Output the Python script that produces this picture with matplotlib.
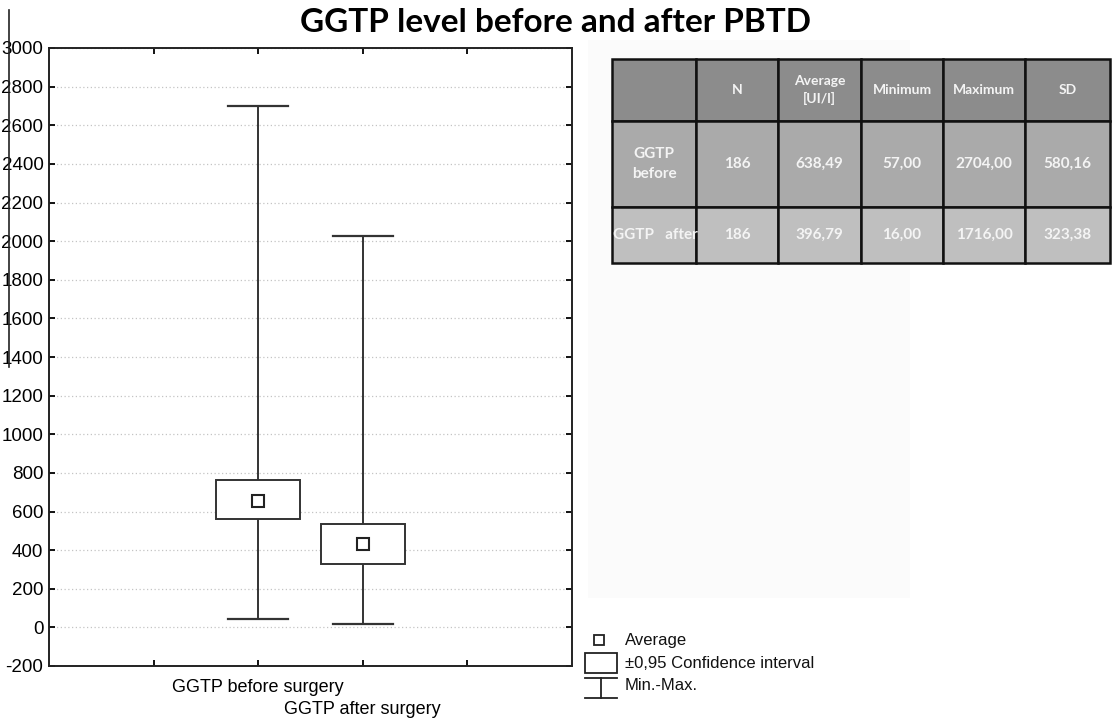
import matplotlib.pyplot as plt
from matplotlib.patches import Rectangle

# Data
groups = ["GGTP before surgery", "GGTP after surgery"]
positions = [2, 3]
means = [655, 431]
ci_low = [562, 328]
ci_high = [762, 534]
mins = [45, 19]
maxs = [2702, 2025]

table_header = ["", "N", "Average\n[UI/l]", "Minimum", "Maximum", "SD"]
table_rows = [
    ["GGTP\nbefore", "186", "638,49", "57,00", "2704,00", "580,16"],
    ["GGTP   after", "186", "396,79", "16,00", "1716,00", "323,38"],
]

W, H = 1116, 725
plt.rcParams['font.family'] = ['Liberation Sans', 'DejaVu Sans']
plt.rcParams['axes.unicode_minus'] = False
fig = plt.figure(figsize=(W / 100, H / 100), dpi=100)

ax = fig.add_axes([49 / W, 1 - 666 / H, (572 - 49) / W, (666 - 48) / H])
ax.set_xlim(0, 5)
ax.set_ylim(-200, 3000)
ax.set_yticks(range(-200, 3001, 200))
ax.set_xticks([1, 2, 3, 4])
ax.set_xticklabels(["", groups[0], groups[1], ""], fontsize=13)
ax.tick_params(axis='y', labelsize=13.5, direction='in', length=4, width=1.3,
               right=True, pad=4)
ax.tick_params(axis='x', direction='in', length=4, width=1.3, top=True, pad=9)
# stagger the second group label one line lower
ax.xaxis.get_major_ticks()[2].set_pad(25)
for s in ax.spines.values():
    s.set_linewidth(1.4)
    s.set_color('#222222')
ax.grid(axis='y', linestyle=(0, (1, 2)), color='#c4c4c4', linewidth=0.9)
ax.set_axisbelow(True)

box_w = 0.8
cap_w = 0.57
for i, x in enumerate(positions):
    # whiskers min-max
    ax.plot([x, x], [mins[i], ci_low[i]], color='#333333', lw=1.4, zorder=3)
    ax.plot([x, x], [ci_high[i], maxs[i]], color='#333333', lw=1.4, zorder=3)
    ax.plot([x - cap_w / 2, x + cap_w / 2], [mins[i], mins[i]], color='#333333', lw=1.6, zorder=3)
    ax.plot([x - cap_w / 2, x + cap_w / 2], [maxs[i], maxs[i]], color='#333333', lw=1.6, zorder=3)
    # confidence box
    ax.add_patch(Rectangle((x - box_w / 2, ci_low[i]), box_w, ci_high[i] - ci_low[i],
                           facecolor='white', edgecolor='#333333', lw=1.4, zorder=4))
ax.plot(positions, means, linestyle='none', marker='s', markersize=8,
        markerfacecolor='white', markeredgecolor='#222222', markeredgewidth=1.5, zorder=5)

# overlays in pixel coordinates for title, table and legend
ov = fig.add_axes([0, 0, 1, 1], zorder=-1)
ov.set_xlim(0, W)
ov.set_ylim(H, 0)
ov.axis('off')
ov2 = fig.add_axes([0, 0, 1, 1])
ov2.set_xlim(0, W)
ov2.set_ylim(H, 0)
ov2.axis('off')

ov.add_patch(Rectangle((588, 40), 322, 558, facecolor='#fbfbfb', edgecolor='none'))
ov2.plot([9, 9], [10, 367], color='#222222', lw=1.2)

fig.text(556 / W, 1 - 22 / H, "GGTP level before and after PBTD", ha='center', va='center',
         fontsize=24, fontweight='bold', family=['Lato', 'DejaVu Sans'])

col_edges = [612, 696, 778, 861, 943, 1025, 1110]
row_edges = [59, 121, 207, 263]
row_colors = ['#8c8c8c', '#aaaaaa', '#bfbfbf']
all_rows = [table_header] + table_rows
for r, row in enumerate(all_rows):
    for c, txt in enumerate(row):
        x0, x1 = col_edges[c], col_edges[c + 1]
        y0, y1 = row_edges[r], row_edges[r + 1]
        ov2.add_patch(Rectangle((x0, y0), x1 - x0, y1 - y0, facecolor=row_colors[r],
                                edgecolor='#111111', lw=1.8))
        ha = 'left' if (r == 2 and c == 0) else 'center'
        tx = x0 + 1 if ha == 'left' else (x0 + x1) / 2
        fs = 10 if r == 0 else 11
        ov2.text(tx, (y0 + y1) / 2, txt, ha=ha, va='center', color='#f4f4f4',
                 fontsize=fs, fontweight='bold', family=['Lato', 'DejaVu Sans'],
                 linespacing=1.5)

# legend
ov2.plot([599], [640], marker='s', markersize=7, markerfacecolor='white',
         markeredgecolor='#222222', markeredgewidth=1.3, linestyle='none')
ov2.add_patch(Rectangle((585, 653), 32, 20, facecolor='white', edgecolor='#222222', lw=1.3))
ov2.plot([585, 617], [678, 678], color='#222222', lw=1.3)
ov2.plot([585, 617], [698, 698], color='#222222', lw=1.3)
ov2.plot([601, 601], [678, 698], color='#222222', lw=1.3)
leg_labels = ["Average", "\u00b10,95 Confidence interval", "Min.-Max."]
for lbl, yy in zip(leg_labels, [640, 663, 686]):
    ov2.text(625, yy, lbl, ha='left', va='center', fontsize=12, color='#111111')

fig.savefig('out.png', dpi=100)
